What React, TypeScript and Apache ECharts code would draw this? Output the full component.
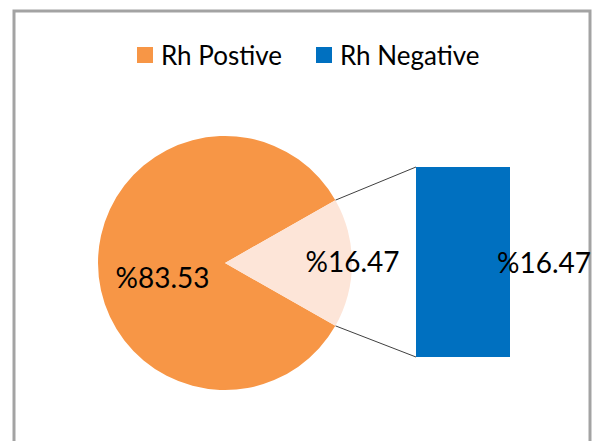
import React, { useEffect, useRef } from "react";
import * as echarts from "echarts";

const legendNames = ["Rh Postive", "Rh Negative"];
const pieNames = ["Rh Postive", "Rh Negative share"];
const pieValues = [83.53, 16.47];
const barCategories = ["Rh Negative"];
const barValues = [16.47];

const ORANGE = "#F79646";
const PEACH = "#FDE5D8";
const BLUE = "#0070C0";
const FONT = "Lato";

export default function App() {
  const ref = useRef<HTMLDivElement>(null);
  useEffect(() => {
    if (!ref.current) return;
    const chart = echarts.init(ref.current, undefined, { renderer: "svg" });
    const total = pieValues.reduce((a, b) => a + b, 0);
    const halfSmall = ((pieValues[1] / total) * 360) / 2;
    const cx = 225;
    const cy = 263;
    const r = 127;
    const barLeft = 416;
    const barTop = 167;
    const barW = 94;
    const barH = 190;
    const rad = (halfSmall * Math.PI) / 180;
    const p1 = [cx + r * Math.cos(rad), cy - r * Math.sin(rad)];
    const p2 = [cx + r * Math.cos(rad), cy + r * Math.sin(rad)];

    const legendX = [137, 316];
    const legendColors = [ORANGE, BLUE];
    const legendGraphics: any[] = [];
    legendNames.forEach((n, i) => {
      const x0 = legendX[i];
      legendGraphics.push({
        type: "polygon",
        shape: { points: [[x0, 47], [x0 + 16, 47], [x0 + 16, 63], [x0, 63]] },
        style: { fill: legendColors[i] },
        silent: true,
      });
      legendGraphics.push({
        type: "text",
        x: x0 + 24,
        y: 55,
        style: {
          text: n,
          fontFamily: FONT,
          fontSize: 26,
          fill: "#000",
          textAlign: "left",
          verticalAlign: "middle",
        },
        silent: true,
      });
    });

    chart.setOption({
      animation: false,
      grid: { left: barLeft, top: barTop, width: barW, height: barH },
      xAxis: { type: "category", data: barCategories, show: false },
      yAxis: { type: "value", min: 0, max: barValues[0], show: false, splitLine: { show: false } },
      graphic: [
        {
          type: "polyline",
          shape: { points: [[14, 445], [14, 11], [590, 11], [590, 445]] },
          style: { stroke: "#a3a3a3", lineWidth: 3, fill: "none" },
          silent: true,
        },
        {
          type: "line",
          shape: { x1: p1[0], y1: p1[1], x2: barLeft, y2: barTop },
          style: { stroke: "#404040", lineWidth: 1 },
          silent: true,
        },
        {
          type: "line",
          shape: { x1: p2[0], y1: p2[1], x2: barLeft, y2: barTop + barH },
          style: { stroke: "#404040", lineWidth: 1 },
          silent: true,
        },
        ...legendGraphics,
      ],
      series: [
        {
          type: "pie",
          center: [cx, cy],
          radius: r,
          startAngle: -halfSmall,
          clockwise: true,
          avoidLabelOverlap: false,
          silent: true,
          labelLine: { show: false },
          emphasis: { disabled: true },
          data: pieValues.map((v, i) => ({
            name: pieNames[i],
            value: v,
            itemStyle: { color: i === 0 ? ORANGE : PEACH },
            label: {
              show: true,
              position: "inside",
              formatter: "%" + v.toFixed(2),
              fontFamily: FONT,
              fontSize: 28,
              color: "#000",
              offset: i === 0 ? [4, 14] : [61, -2],
            },
          })),
        },
        {
          type: "bar",
          name: legendNames[1],
          data: barValues,
          barWidth: "100%",
          silent: true,
          itemStyle: { color: BLUE },
          label: {
            show: true,
            position: [81, "50%"],
            verticalAlign: "middle",
            align: "left",
            formatter: (p: any) => "%" + Number(p.value).toFixed(2),
            fontFamily: FONT,
            fontSize: 28,
            color: "#000",
          },
        },
      ],
    });
    return () => chart.dispose();
  }, []);
  return (
    <div
      ref={ref}
      style={{ position: "fixed", left: 0, top: 0, width: 595, height: 441, background: "#fff" }}
    />
  );
}
